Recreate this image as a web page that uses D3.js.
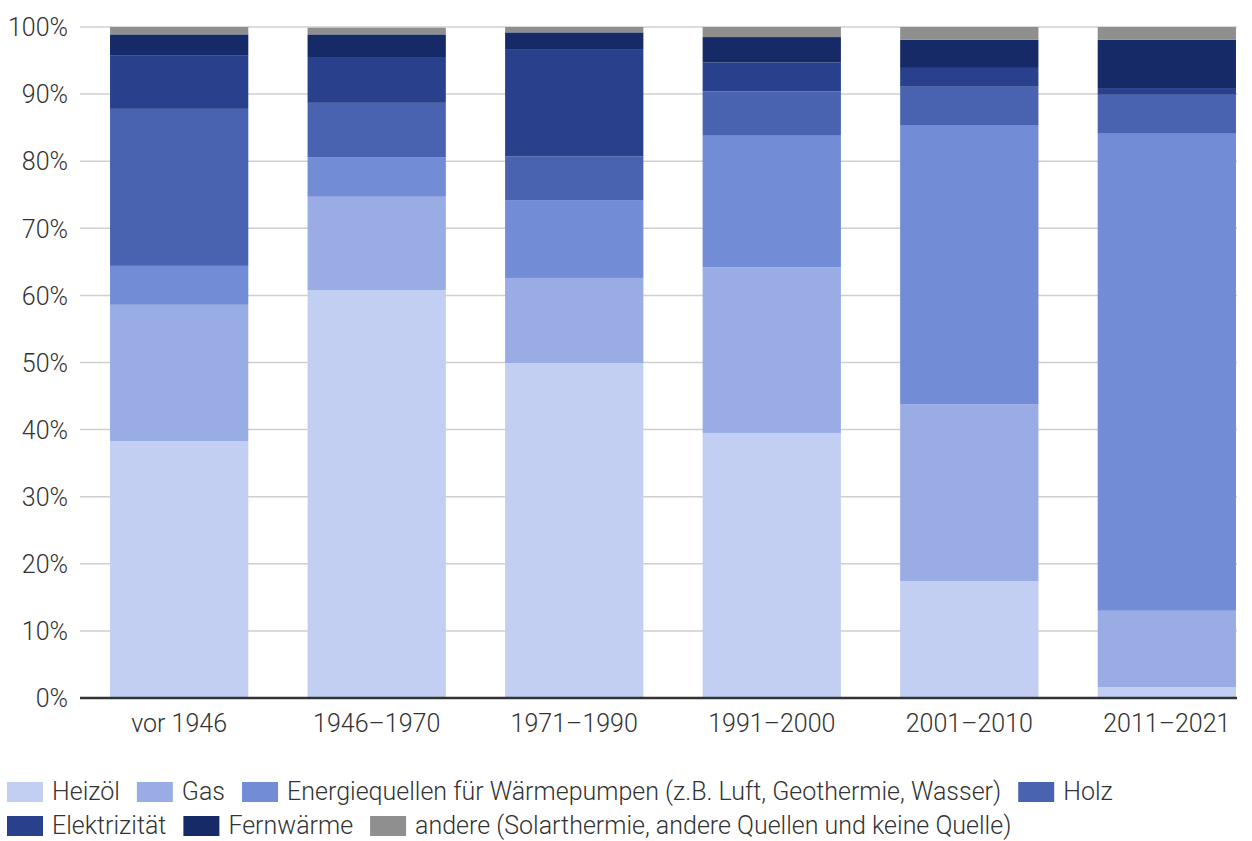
<!DOCTYPE html>
<html><head><meta charset="utf-8">
<script src="https://cdn.jsdelivr.net/npm/d3@7"></script>
<style>
body{margin:0;background:#fff;}
text{font-family:Roboto,"Noto Sans",sans-serif;font-weight:300;fill:#333;}
</style></head><body>
<svg id="c" width="1252" height="841"></svg>
<script>
const categories = ["vor 1946","1946–1970","1971–1990","1991–2000","2001–2010","2011–2021"];
const seriesNames = ["Heizöl","Gas","Energiequellen für Wärmepumpen (z.B. Luft, Geothermie, Wasser)","Holz","Elektrizität","Fernwärme","andere (Solarthermie, andere Quellen und keine Quelle)"];
const heizoel   = [38.3, 60.8, 49.9, 39.5, 17.4, 1.6];
const gas       = [20.3, 13.9, 12.7, 24.7, 26.4, 11.4];
const waerme    = [ 5.8,  5.9, 11.6, 19.6, 41.5, 71.1];
const holz      = [23.4,  8.1,  6.5,  6.6,  5.8,  5.8];
const elektr    = [ 8.0,  6.7, 15.9,  4.3,  2.8,  1.0];
const fernwaerme= [ 3.1,  3.5,  2.6,  3.8,  4.2,  7.2];
const andere    = [ 1.1,  1.0,  0.8,  1.5,  1.9,  1.9];
const yTicks = [0,10,20,30,40,50,60,70,80,90,100];
const colors = ["#c2cff2","#99ade4","#728cd6","#4a63b1","#29408c","#152a66","#8f8f8f"];

(function(){
const FS = 25;
const seriesValues = [heizoel,gas,waerme,holz,elektr,fernwaerme,andere];
const keys = seriesNames;
const rows = categories.map((c,i)=>{const o={cat:c}; keys.forEach((k,j)=>o[k]=seriesValues[j][i]); return o;});
const stack = d3.stack().keys(keys)(rows);

const svg = d3.select("#c");
const mLeft=80, mRight=1237, mTop=27, mBottom=698;
const x = d3.scaleBand().domain(categories).range([80.4,1265.6]).paddingInner(0.3).paddingOuter(0.15);
const y = d3.scaleLinear().domain([0,100]).range([mBottom,mTop]);

// gridlines
svg.append("g").selectAll("line").data(yTicks.filter(t=>t>0)).join("line")
  .attr("x1",mLeft).attr("x2",mRight).attr("y1",d=>y(d)).attr("y2",d=>y(d))
  .attr("stroke","#cfcfcf").attr("stroke-width",1.5);

// y labels
const yAxis = d3.axisLeft(y).tickValues(yTicks).tickFormat(d=>d+"%").tickSize(0).tickPadding(0);
const gy = svg.append("g").attr("transform",`translate(68,0)`).call(yAxis);
gy.select(".domain").remove();
gy.selectAll("text").attr("font-size",FS).style("font-family","Roboto, sans-serif").style("font-weight",300).attr("fill","#333").attr("dy","0.35em");

// bars
svg.append("g").selectAll("g").data(stack).join("g").attr("fill",(d,i)=>colors[i])
  .selectAll("rect").data(d=>d).join("rect")
  .attr("x",d=>x(d.data.cat)).attr("width",x.bandwidth())
  .attr("y",d=>y(d[1])).attr("height",d=>y(d[0])-y(d[1]));

// x axis
svg.append("line").attr("x1",mLeft).attr("x2",mRight).attr("y1",mBottom).attr("y2",mBottom)
  .attr("stroke","#333").attr("stroke-width",2.5);
const xAxis = d3.axisBottom(x).tickSize(0).tickPadding(0);
const gx = svg.append("g").attr("transform",`translate(0,${mBottom})`).call(xAxis);
gx.select(".domain").remove();
gx.selectAll("text").attr("font-size",FS).style("font-family","Roboto, sans-serif").style("font-weight",300).attr("fill","#333").attr("dy",null).attr("y",34);

// legend
const legendRows = [[0,1,2,3],[4,5,6]];
const rowY = [782,816];
legendRows.forEach((r,ri)=>{
  let cx = 7;
  r.forEach(i=>{
    const g = svg.append("g");
    g.append("rect").attr("x",cx).attr("y",rowY[ri]).attr("width",36).attr("height",20).attr("fill",colors[i]);
    const t = g.append("text").attr("x",cx+45).attr("y",rowY[ri]+18).attr("font-size",FS).text(seriesNames[i]);
    cx += 45 + t.node().getComputedTextLength() + 17;
  });
});
})();
</script></body></html>
